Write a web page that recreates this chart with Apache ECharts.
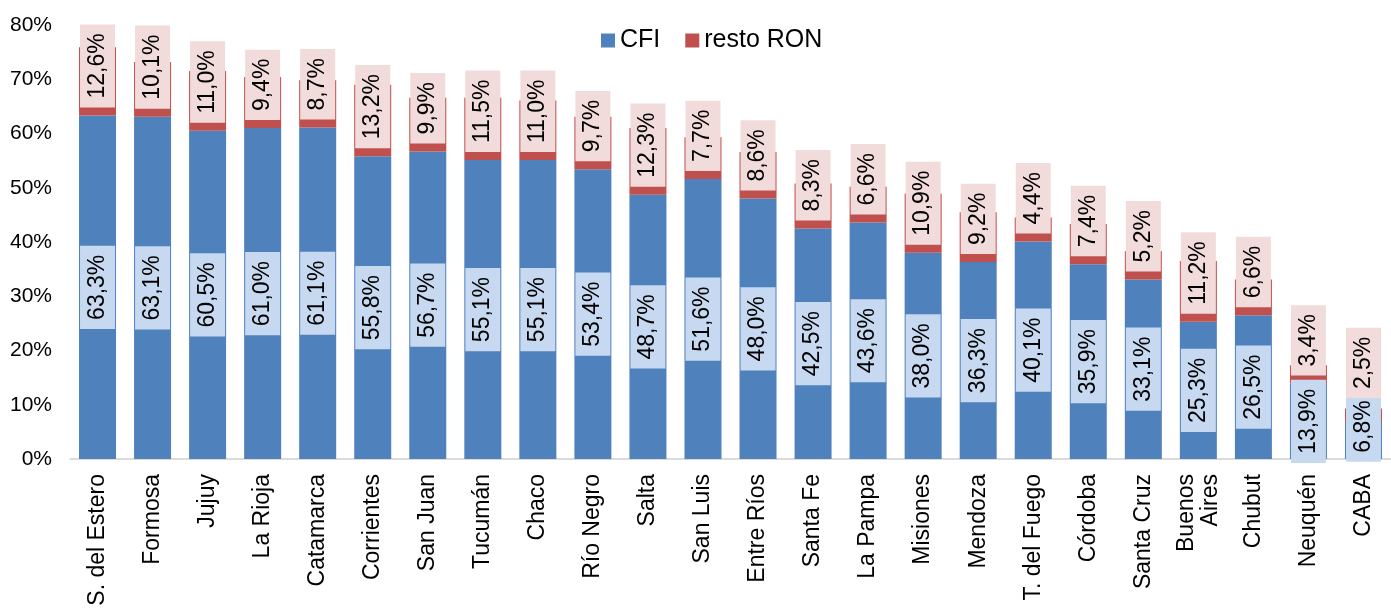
<!DOCTYPE html>
<html>
<head>
<meta charset="utf-8">
<script src="https://cdn.jsdelivr.net/npm/echarts@6/dist/echarts.min.js"></script>
<style>
  html, body { margin: 0; padding: 0; background: #fff; }
  #chart { width: 1391px; height: 610px; }
</style>
</head>
<body>
<div id="chart"></div>
<script>
// provinces, ordered as in the source
const categories = [
  'S. del Estero', 'Formosa', 'Jujuy', 'La Rioja', 'Catamarca', 'Corrientes',
  'San Juan', 'Tucumán', 'Chaco', 'Río Negro', 'Salta', 'San Luis',
  'Entre Ríos', 'Santa Fe', 'La Pampa', 'Misiones', 'Mendoza', 'T. del Fuego',
  'Córdoba', 'Santa Cruz', 'Buenos\nAires', 'Chubut', 'Neuquén', 'CABA'
];
// share of CFI (%)
const cfi = [
  63.3, 63.1, 60.5, 61.0, 61.1, 55.8, 56.7, 55.1, 55.1, 53.4, 48.7, 51.6,
  48.0, 42.5, 43.6, 38.0, 36.3, 40.1, 35.9, 33.1, 25.3, 26.5, 13.9, 6.8
];
// share of resto RON (%)
const restoRon = [
  12.6, 10.1, 11.0, 9.4, 8.7, 13.2, 9.9, 11.5, 11.0, 9.7, 12.3, 7.7,
  8.6, 8.3, 6.6, 10.9, 9.2, 4.4, 7.4, 5.2, 11.2, 6.6, 3.4, 2.5
];
const yTicks = [0, 10, 20, 30, 40, 50, 60, 70, 80];

const FONT = "'Liberation Sans', Arial, sans-serif";
const pct = v => v.toFixed(1).replace('.', ',') + '%';

const chart = echarts.init(document.getElementById('chart'));

// CABA labels were nudged up in the original to avoid overlap
// (label offset works in the rotated frame, so +x means up here)
const cfiData = cfi.map((v, i) =>
  categories[i] === 'CABA' ? { value: v, label: { offset: [14, 0] } } : v);
const ronData = restoRon.map((v, i) =>
  categories[i] === 'CABA' ? { value: v, label: { distance: 24 } } : v);

const option = {
  animation: false,
  textStyle: { fontFamily: FONT },
  legend: {
    data: ['CFI', 'resto RON'],
    left: 596,
    top: 23,
    itemWidth: 14,
    itemHeight: 14,
    itemGap: 25,
    icon: 'rect',
    textStyle: { fontSize: 25, color: '#000', fontFamily: FONT }
  },
  grid: { left: 70, right: -7, top: 25, bottom: 151, containLabel: false },
  xAxis: {
    type: 'category',
    data: categories,
    axisLine: { lineStyle: { color: '#cfcfcf', width: 1.5 } },
    axisTick: { show: false },
    axisLabel: {
      interval: 0,
      rotate: 90,
      margin: 15,
      fontSize: 23,
      lineHeight: 24,
      color: '#000',
      fontFamily: FONT
    }
  },
  yAxis: {
    type: 'value',
    min: yTicks[0],
    max: yTicks[yTicks.length - 1],
    interval: 10,
    splitLine: { show: false },
    axisLine: { show: false },
    axisTick: { show: false },
    axisLabel: {
      margin: 18,
      fontSize: 21,
      color: '#000',
      fontFamily: FONT,
      formatter: v => v + '%'
    }
  },
  series: [
    {
      name: 'CFI',
      type: 'bar',
      stack: 'total',
      barWidth: 37,
      data: cfiData,
      itemStyle: { color: '#4F81BD' },
      label: {
        show: true,
        position: 'inside',
        rotate: 90,
        fontSize: 23,
        color: '#000',
        fontFamily: FONT,
        backgroundColor: '#C6D9F1',
        padding: [6, 9],
        formatter: p => pct(p.value)
      }
    },
    {
      name: 'resto RON',
      type: 'bar',
      stack: 'total',
      barWidth: 37,
      data: ronData,
      itemStyle: { color: '#C0504D' },
      label: {
        show: true,
        position: 'insideBottom',
        distance: 8,
        rotate: 90,
        align: 'left',
        verticalAlign: 'middle',
        fontSize: 23,
        color: '#000',
        fontFamily: FONT,
        backgroundColor: '#F2DCDB',
        padding: [6, 9],
        formatter: p => pct(p.value)
      }
    }
  ]
};

chart.setOption(option);
</script>
</body>
</html>
